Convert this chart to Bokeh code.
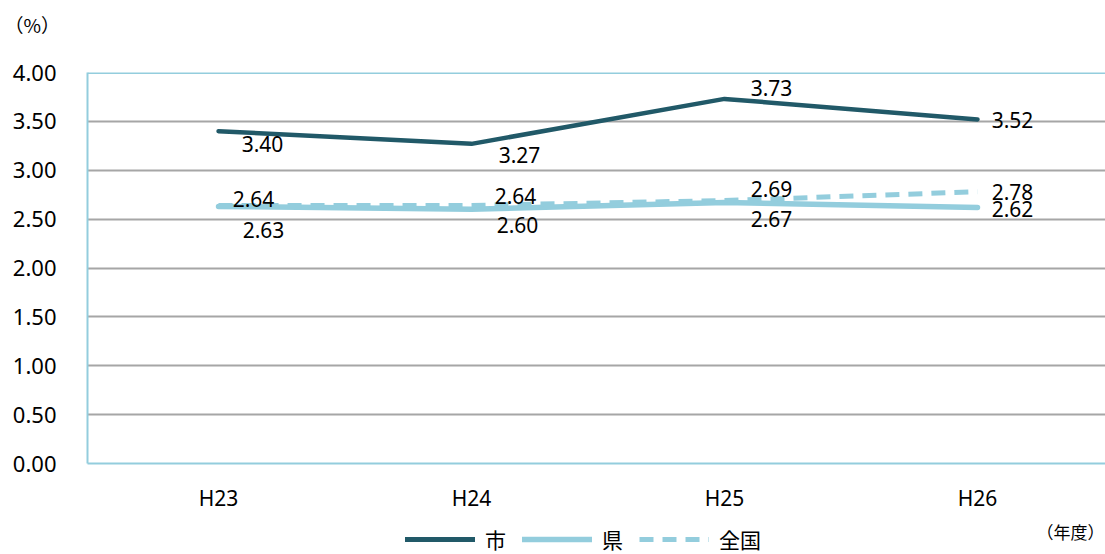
from bokeh.plotting import figure
from bokeh.layouts import column
from bokeh.models import (Range1d, FixedTicker, Span, Label, Title,
                          Legend, LegendItem, ColumnDataSource, NumeralTickFormatter)
from bokeh.core.properties import value
from bokeh.embed import file_html
from bokeh.resources import INLINE

# ---- data ----
categories = ["H23", "H24", "H25", "H26"]
city = [3.40, 3.27, 3.73, 3.52]        # 市
pref = [2.63, 2.60, 2.67, 2.62]        # 県
nation = [2.64, 2.64, 2.69, 2.78]      # 全国
series_names = ["市", "県", "全国"]
y_ticks = [0, 0.5, 1.0, 1.5, 2.0, 2.5, 3.0, 3.5, 4.0]
y_unit = "（%）"
x_unit = "（年度）"

# ---- style ----
DARK = "#215968"
LIGHT = "#93CDDD"
GRID = "#A6A6A6"
NUM_FONT = "Noto Sans"
CJK_FONT = "Noto Sans CJK JP"
W = 1105
LEFT = 87

xs = list(range(len(categories)))
X0, X1 = -0.518, 3.506

p = figure(width=W, height=514, output_backend="svg", toolbar_location=None,
           x_range=Range1d(X0, X1), y_range=Range1d(0, 4),
           min_border_left=LEFT, min_border_top=72, min_border_bottom=49, min_border_right=0)
p.outline_line_color = None

# axes
p.yaxis.ticker = FixedTicker(ticks=y_ticks)
p.yaxis.formatter = NumeralTickFormatter(format="0.00")
p.yaxis.major_tick_line_color = None
p.yaxis.major_tick_out = 0
p.yaxis.major_tick_in = 0
p.yaxis.minor_tick_line_color = None
p.yaxis.axis_line_color = LIGHT
p.yaxis.axis_line_width = 2
p.yaxis.major_label_text_font = NUM_FONT
p.yaxis.major_label_text_font_size = "22px"
p.yaxis.major_label_text_color = "#000000"
p.yaxis.major_label_standoff = 31

p.xaxis.ticker = FixedTicker(ticks=xs)
p.xaxis.major_label_overrides = {i: c for i, c in enumerate(categories)}
p.xaxis.major_tick_line_color = None
p.xaxis.major_tick_out = 0
p.xaxis.major_tick_in = 0
p.xaxis.minor_tick_line_color = None
p.xaxis.axis_line_color = LIGHT
p.xaxis.axis_line_width = 2
p.xaxis.major_label_text_font = NUM_FONT
p.xaxis.major_label_text_font_size = "21px"
p.xaxis.major_label_text_color = "#000000"
p.xaxis.major_label_standoff = 20

p.xgrid.grid_line_color = None
p.ygrid.ticker = FixedTicker(ticks=y_ticks[:-1])
p.ygrid.grid_line_color = GRID
p.ygrid.grid_line_width = 2

p.add_layout(Span(location=4, dimension="width", line_color=LIGHT, line_width=3))

p.add_layout(Title(text=y_unit + "\n", align="left", offset=-83, standoff=15,
                   vertical_align="bottom",
                   text_font=CJK_FONT, text_font_size="19px",
                   text_font_style="normal", text_color="#000000"), "above")

# lines
r_city = p.line(xs, city, line_color=DARK, line_width=4.5, line_cap="round")
r_pref = p.line(xs, pref, line_color=LIGHT, line_width=5.5, line_cap="round")
r_nat = p.line(xs, nation, line_color=LIGHT, line_width=5, line_dash="14 9")

# data labels
def fmt(v):
    return f"{v:.2f}"

lab_src = ColumnDataSource(dict(
    x=xs * 3,
    y=city + pref + nation,
    t=[fmt(v) for v in city + pref + nation],
    dx=[44, 48, 47, 35, 45, 46, 47, 35, 35, 44, 47, 35],
    dy=[13, 11, -11, 1, 24, 16, 16, 2, -6, -9, -12, 0],
))
p.text(x="x", y="y", text="t", x_offset="dx", y_offset="dy", source=lab_src,
       text_align="center", text_baseline="middle", text_font=value(NUM_FONT),
       text_font_size="21px", text_color="#000000")

# ---- legend strip (frame aligned with the chart frame) ----
H2 = 40
q = figure(width=W, height=H2, output_backend="svg", toolbar_location=None,
           x_range=Range1d(LEFT, W), y_range=Range1d(H2, 0),
           x_axis_location=None, y_axis_location=None,
           min_border_left=LEFT, min_border_right=0, min_border_top=0, min_border_bottom=0)
q.outline_line_color = None
q.xgrid.grid_line_color = None
q.ygrid.grid_line_color = None

# invisible one-point proxies, only used for the legend swatches
l_city = q.line([-100], [-100], line_color=DARK, line_width=5, line_cap="round")
l_pref = q.line([-100], [-100], line_color=LIGHT, line_width=5.5, line_cap="round")
l_nat = q.line([-100], [-100], line_color=LIGHT, line_width=5, line_dash="14 9")

legend = Legend(items=[LegendItem(label=series_names[0], renderers=[l_city]),
                       LegendItem(label=series_names[1], renderers=[l_pref]),
                       LegendItem(label=series_names[2], renderers=[l_nat])],
                orientation="horizontal", location=(405 - LEFT, 0),
                label_text_font=CJK_FONT, label_text_font_size="21px",
                label_text_color="#000000", glyph_width=70, glyph_height=20,
                spacing=16, padding=0, margin=0, label_standoff=10,
                border_line_color=None, background_fill_alpha=0)
q.add_layout(legend, "center")

q.add_layout(Label(x=1070, y=17, text=x_unit, text_align="center", text_baseline="middle",
                   text_font=CJK_FONT, text_font_size="17px", text_color="#000000"))

layout = column(p, q, spacing=0)
open("out.html", "w").write(file_html(layout, INLINE))
